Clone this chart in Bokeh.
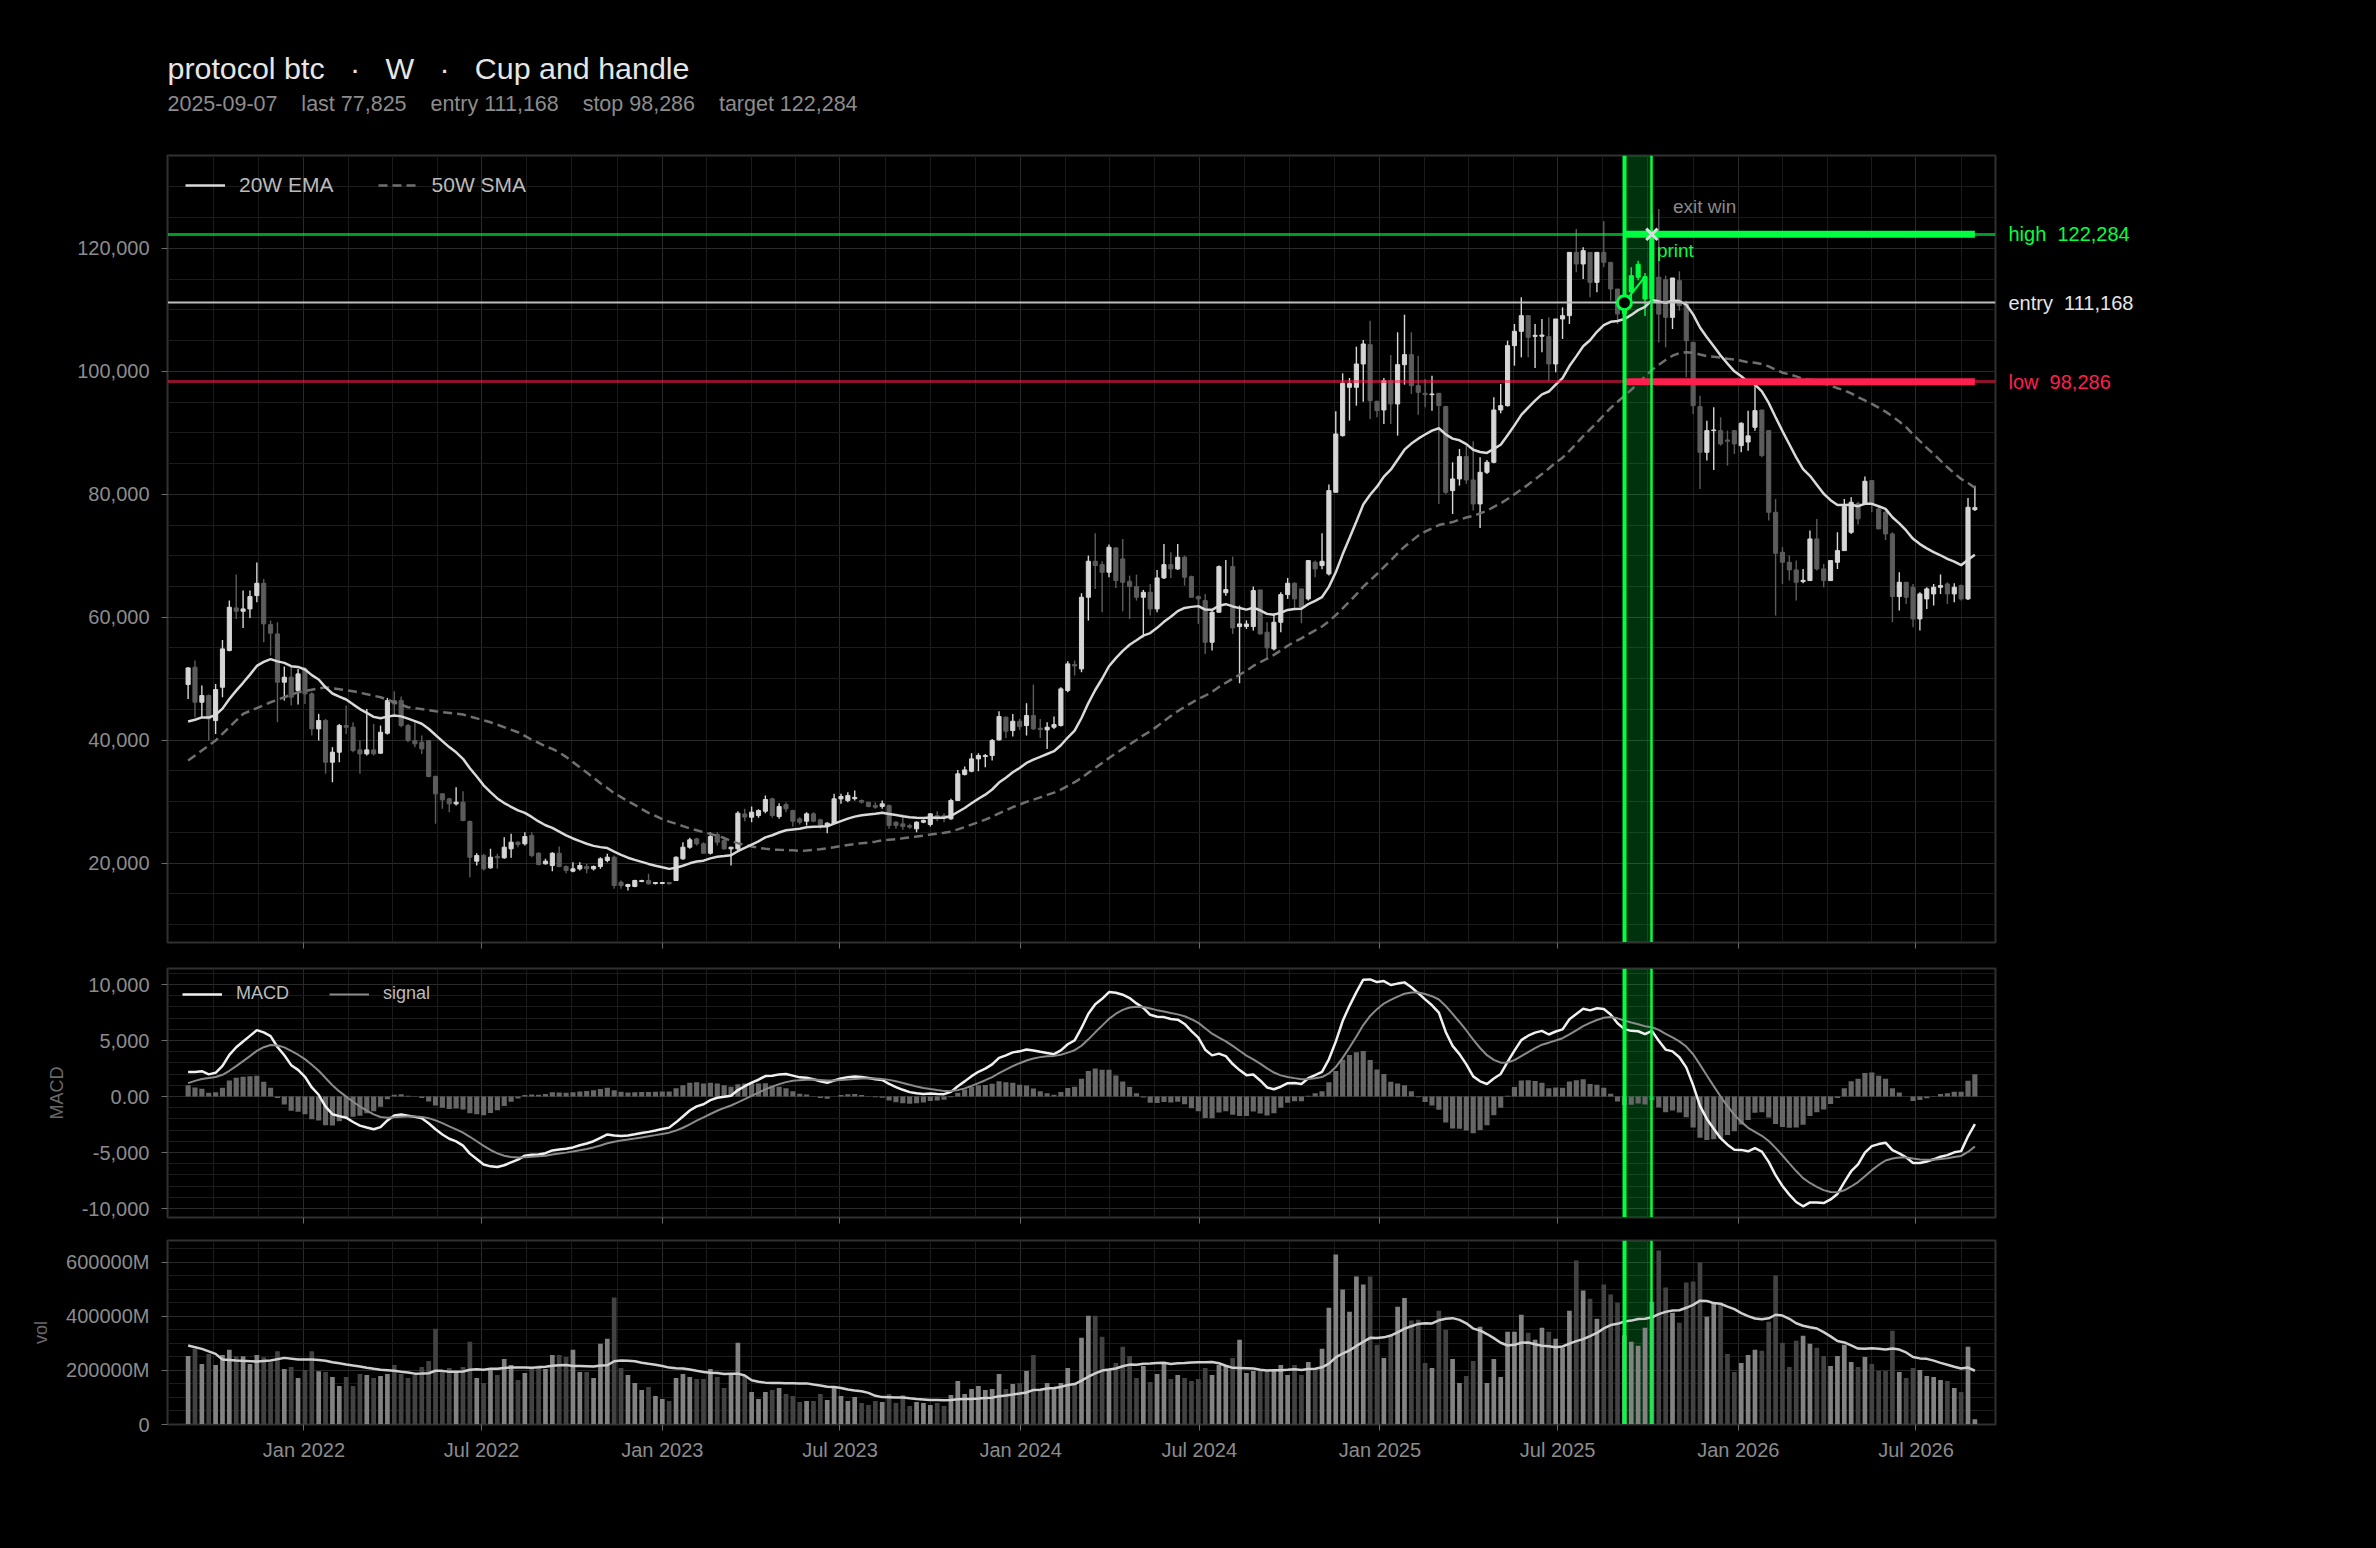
import numpy as np
import pandas as pd
from bokeh.plotting import figure
from bokeh.layouts import column, row
from bokeh.models import (Range1d, FixedTicker, SingleIntervalTicker, NumeralTickFormatter,
                          CustomJSTickFormatter, DatetimeTickFormatter, Label, Legend,
                          LegendItem, ColumnDataSource)
from bokeh.core.properties import value
from bokeh.embed import file_html
from bokeh.resources import INLINE

# ---------------- data ----------------
symbol = "protocol btc"
timeframe = "W"
pattern = "Cup and handle"
signal_date = "2025-09-07"
exit_date = "2025-10-05"
entry_price = 111168
stop_price = 98286
target_price = 122284
first_week = "2021-09-05"

opens = [49051, 51870, 46179, 47263, 43198, 48618, 54580, 61517, 60975, 61355,
         63523, 65528, 58807, 57290, 49431, 50244, 48076, 51599, 47534, 41843,
         43198, 36423, 38049, 42385, 42114, 38428, 37778, 38428, 37886, 41138,
         46450, 46450, 42385, 39946, 39675, 39946, 34092, 31274, 30461, 29648,
         29919, 26775, 20325, 21247, 19241, 21084, 20867, 22331, 23415, 23144,
         24499, 21626, 19892, 19621, 21626, 19458, 18699, 19079, 19458, 19079,
         19458, 20434, 20976, 16911, 16206, 16206, 17020, 17182, 16694, 16700,
         16857, 17182, 20705, 22602, 23957, 23144, 21626, 24661, 23686, 22331,
         22331, 28000, 27480, 27751, 28455, 30461, 27588, 29539, 28564, 27209,
         26829, 28022, 27046, 26124, 26504, 30461, 30190, 30500, 30190, 29919,
         29377, 29214, 29377, 26666, 26395, 26124, 25583, 26666, 26287, 27751,
         27751, 27209, 30190, 34417, 34959, 36965, 37344, 37507, 40054, 43740,
         41572, 43089, 42385, 44011, 41951, 41680, 42114, 42385, 48076, 52304,
         51599, 63252, 69105, 68563, 67316, 71273, 69485, 65853, 64986, 63252,
         64065, 61355, 66395, 68563, 67858, 69756, 66612, 63360, 62710, 55935,
         60813, 64000, 68238, 58482, 58500, 58482, 64444, 57561, 54851, 59187,
         63686, 65528, 64607, 62981, 68942, 68400, 67046, 80326, 89540, 97400,
         97398, 101192, 104335, 95121, 93712, 98482, 94688, 101083, 102709, 97669,
         96422, 96205, 96422, 94255, 80597, 82494, 86125, 82331, 78428, 83577,
         85204, 93712, 94418, 104173, 106503, 109051, 105690, 105700, 105636, 101192,
         108509, 109051, 119349, 117452, 119349, 114471, 119349, 117723, 113387, 109400,
         112900, 115300, 111761, 111800, 115300, 114905, 108780, 114742, 110948, 104715,
         94255, 86830, 90350, 90352, 88834, 90352, 87913, 88500, 90894, 93712,
         90352, 77073, 70569, 68943, 67696, 65800, 65962, 72737, 67858, 65962,
         68942, 70840, 73820, 78500, 78428, 82222, 77615, 77073, 73549, 63360,
         65691, 64878, 59729, 62981, 63794, 64878, 65420, 63794, 65149, 62981,
         77500]
highs = [51870, 52954, 48889, 47425, 49160, 56314, 62710, 66937, 64336, 64336,
         68888, 66233, 59458, 59187, 51978, 52141, 51599, 51870, 47805, 44282,
         43469, 38862, 42656, 45637, 42927, 39946, 45095, 42656, 42385, 46883,
         47967, 47100, 42656, 42927, 40759, 40054, 34255, 31382, 30623, 32358,
         31707, 26938, 21626, 21518, 22331, 21518, 24228, 24770, 23577, 25041,
         25041, 21789, 20705, 21789, 22710, 19621, 20163, 20163, 19892, 19621,
         20976, 21518, 21247, 17182, 16640, 17290, 17290, 18266, 16911, 16960,
         16911, 21084, 23415, 24119, 24119, 23415, 25041, 25041, 23957, 22602,
         28455, 28835, 29214, 28780, 31003, 30623, 29756, 29919, 28672, 27480,
         28293, 28293, 27209, 26666, 31274, 31274, 31545, 31816, 30350, 29919,
         29919, 30190, 29539, 26829, 27913, 26395, 26829, 27100, 28130, 28455,
         28130, 30461, 35176, 35718, 37886, 37886, 37778, 40217, 44715, 43848,
         44282, 43469, 46016, 49051, 43469, 42927, 43848, 48618, 52846, 52954,
         63902, 70027, 73658, 69105, 71815, 71381, 72737, 66775, 66937, 64444,
         65420, 67696, 71923, 70569, 71923, 70027, 66775, 63523, 63794, 60975,
         68400, 69300, 69864, 61897, 59500, 64986, 64444, 59187, 60650, 64065,
         66395, 65690, 64607, 69322, 69214, 73658, 81573, 93497, 99675, 98915,
         104010, 105094, 108237, 95229, 98915, 102655, 106340, 109211, 106340, 102546,
         98753, 99295, 96422, 94418, 85204, 87372, 87913, 88617, 86016, 85583,
         95771, 97940, 104986, 107695, 112032, 109051, 107695, 108500, 108780, 108509,
         110406, 119349, 123143, 120162, 119349, 119349, 124389, 117723, 113387, 112600,
         116910, 118000, 116000, 125600, 126400, 115555, 115176, 116259, 111490, 104715,
         96043, 91978, 94147, 92519, 90352, 90352, 91707, 93603, 97669, 93712,
         90352, 79241, 71381, 70027, 69214, 67858, 74092, 75989, 68671, 69322,
         73820, 79241, 79512, 78800, 82873, 82331, 77886, 77615, 73820, 67316,
         65691, 65420, 64065, 64878, 65420, 66937, 65691, 65528, 65311, 79404,
         81400]
lows = [46721, 43740, 43740, 39946, 41030, 46992, 54471, 59729, 58265, 59892,
        62439, 55935, 53767, 42927, 46450, 45637, 45800, 45908, 40759, 39946,
        34526, 33171, 36423, 41030, 38049, 34526, 37507, 37507, 37778, 40922,
        44011, 42114, 39675, 38862, 37778, 33984, 26396, 28835, 28293, 29377,
        26829, 17724, 19621, 18808, 19079, 19079, 20705, 20867, 22602, 22873,
        20976, 19621, 19783, 18699, 19350, 18374, 18537, 18808, 18374, 18808,
        19079, 20163, 15827, 15827, 15556, 16098, 16910, 16531, 16531, 16580,
        16531, 17100, 20542, 22331, 22873, 21518, 21409, 22873, 22168, 19621,
        21951, 26829, 26666, 27371, 28130, 27371, 27209, 28293, 25962, 26287,
        26124, 26666, 25583, 24878, 26395, 29648, 29919, 30190, 29700, 29106,
        28835, 28835, 25583, 25583, 25420, 25583, 25041, 26500, 25962, 26829,
        26666, 27046, 30190, 34255, 34797, 34959, 35610, 36694, 39946, 40379,
        40596, 41680, 40759, 41680, 40379, 38591, 41843, 42222, 47805, 50515,
        51057, 59458, 64607, 60813, 66504, 64770, 60975, 59729, 62710, 56748,
        60271, 60813, 66233, 66395, 67696, 65149, 63252, 58916, 54038, 54580,
        60813, 63500, 57290, 49268, 58100, 57832, 57182, 53226, 54580, 57561,
        62981, 61355, 59024, 62710, 66504, 67800, 66775, 80326, 89377, 91979,
        94418, 95043, 92236, 92519, 91436, 91436, 89539, 97832, 96313, 92953,
        94147, 93603, 78428, 80055, 76801, 81411, 81681, 77344, 74525, 83306,
        85041, 93170, 94255, 100921, 102275, 102275, 100542, 103100, 98482, 99837,
        105257, 107695, 116097, 115013, 112032, 112845, 116910, 111490, 107695, 107600,
        111500, 114800, 109000, 111500, 104700, 103901, 106883, 109865, 99024, 93061,
        80868, 85475, 83958, 87913, 84662, 86558, 86829, 87100, 90352, 86016,
        75718, 60271, 65420, 65962, 62710, 65528, 65962, 67588, 64878, 65962,
        67858, 70840, 73549, 75100, 78428, 77073, 74363, 72574, 59187, 61084,
        62168, 58374, 57832, 61355, 61897, 63794, 62168, 62439, 62710, 62818,
        77300]
closes = [51761, 46179, 47263, 43469, 48238, 54851, 61626, 60975, 61355, 63360,
          65528, 58916, 57398, 49431, 50244, 46992, 50786, 47534, 41843, 43198,
          36423, 38049, 42385, 42114, 38320, 37778, 38428, 37778, 41301, 46450,
          45908, 42385, 39946, 39404, 38591, 34092, 31274, 30298, 29648, 29919,
          26938, 20976, 21247, 19079, 20976, 20867, 22602, 23415, 23035, 24336,
          21247, 19783, 20325, 21626, 19458, 18808, 19079, 19621, 19079, 19458,
          20705, 20976, 16369, 16369, 16531, 17182, 17180, 16640, 16857, 16860,
          16640, 20976, 22602, 23794, 23144, 21626, 24336, 23415, 22331, 22602,
          28130, 27500, 28293, 28564, 30352, 27751, 29214, 28835, 26829, 26666,
          28022, 26829, 26124, 26504, 30461, 30840, 31003, 30700, 29919, 29214,
          29106, 29648, 26124, 26124, 25962, 25854, 26666, 26938, 28022, 27209,
          27480, 30190, 34526, 35176, 36965, 37507, 37507, 39946, 43848, 41463,
          43089, 42222, 44011, 41843, 41734, 42114, 42547, 48347, 52412, 52087,
          63252, 69105, 68400, 67316, 71381, 65962, 65690, 64986, 63252, 64065,
          61355, 66395, 68563, 67858, 69756, 66504, 63252, 62981, 55935, 60813,
          68238, 64500, 58265, 58916, 58900, 64336, 57290, 55014, 59187, 63686,
          65528, 62981, 61626, 69214, 67858, 69100, 80597, 89811, 98049, 98000,
          101192, 104444, 95219, 93603, 98482, 94688, 101083, 102709, 97669, 96585,
          96205, 96313, 94418, 80326, 82494, 86125, 82331, 78428, 83577, 85204,
          93712, 94418, 104173, 106503, 109051, 105528, 105853, 105900, 101192, 108509,
          109051, 119349, 117452, 119620, 114471, 119349, 117723, 113387, 109322, 111500,
          115555, 117400, 115400, 122300, 109300, 108780, 115176, 110677, 104986, 94418,
          86830, 90352, 90460, 88184, 88617, 88184, 91545, 89500, 93603, 86287,
          77072, 70406, 68943, 67696, 65691, 66000, 72737, 67858, 65962, 69214,
          70840, 77994, 78699, 76000, 82114, 78428, 74363, 73549, 63360, 65691,
          63252, 59729, 63794, 64607, 64878, 65149, 63794, 64878, 62981, 77886,
          77825]
volumes_m = [253600, 279600, 223900, 261000, 220200, 257300, 275900, 252400, 252400, 223900,
             257300, 248600, 230100, 270900, 205300, 212800, 171900, 201600, 270900, 196700,
             194200, 175700, 142300, 175700, 142300, 186800, 183100, 171900, 179400, 186800,
             220200, 186800, 171900, 183100, 212800, 235000, 353800, 194200, 209100, 194200,
             212800, 305500, 171900, 153400, 205300, 183100, 242500, 220200, 164500, 190500,
             209100, 217700, 205300, 257300, 257300, 249900, 275900, 194200, 194200, 171900,
             298100, 316700, 468900, 209100, 183100, 153400, 127400, 138500, 105100, 94000,
             86600, 171900, 186800, 175700, 168200, 168200, 205300, 175700, 134800, 186800,
             301800, 180600, 120000, 94000, 120000, 127400, 134800, 112600, 105100, 82900,
             86600, 86600, 112600, 90300, 138500, 105100, 86600, 101400, 79200, 71800,
             86600, 82900, 112600, 79200, 108900, 68000, 82900, 79200, 71800, 79200,
             68000, 108900, 160800, 112600, 131100, 142300, 127400, 131100, 186800, 131100,
             149700, 153400, 197900, 257300, 131100, 153400, 131100, 153400, 209100, 149700,
             320400, 402000, 402000, 324100, 205300, 227600, 287000, 253600, 171900, 216500,
             157100, 186800, 227600, 168200, 183100, 171900, 160800, 168200, 209100, 183100,
             220200, 220200, 246200, 313000, 190500, 197900, 197900, 197900, 197900, 220200,
             183100, 220200, 183100, 231300, 205300, 279600, 431700, 628400, 498500, 416900,
             546800, 517100, 546800, 294400, 246200, 329000, 435400, 467600, 384700, 387200,
             227600, 209100, 420600, 350100, 242500, 153400, 179400, 235000, 361200, 153400,
             242500, 175700, 342700, 342700, 405800, 339000, 313000, 357500, 342700, 316700,
             283300, 420600, 606200, 494800, 465100, 390900, 517100, 480000, 450300, 330000,
             305600, 290700, 357500, 454000, 643300, 506000, 413200, 376100, 524500, 528200,
             598700, 398300, 450300, 442900, 261000, 194200, 227600, 257300, 275900, 272200,
             379800, 550500, 301800, 212800, 309300, 327800, 298100, 283300, 253600, 216500,
             253600, 294400, 231300, 212800, 249900, 223900, 197900, 197900, 346400, 194200,
             171900, 209100, 201600, 179400, 175700, 164500, 160800, 134800, 120000, 287000,
             19800]

# indicator warm-up values (history before the first visible week)
ema20_start = 43035
ema12_start = 44140
ema26_start = 41940
signal_start = 1200
sma50_warmup_idx = [0, 4, 8, 12, 16, 20, 24, 28, 32, 36, 40, 44, 48]
sma50_warmup = [36694, 39946, 44282, 46179, 47805, 48618, 47967, 46992, 45366, 44715, 44173, 42927, 41301]
volma_warmup_idx = [0, 2, 4, 5, 7, 10, 12, 14, 16, 18]
volma_warmup = [292000, 279600, 261000, 240000, 236300, 232600, 236300, 246200, 240000, 240000]

price_axis = (7100, 135100)
macd_axis = (-10800, 11430)
vol_axis = (0, 680000)

# ---------------- derived ----------------
FONT = "Liberation Sans"
n = len(closes)
o = np.array(opens, float); h = np.array(highs, float)
l = np.array(lows, float); c = np.array(closes, float)
v = np.array(volumes_m, float)
dates = pd.date_range(first_week, periods=n, freq="7D")
t = (dates.values.astype("datetime64[ms]").astype("int64")).astype(float)
WEEK = 7 * 24 * 3600 * 1000.0


def ms(s):
    return float(pd.Timestamp(s).value // 10**6)


t_entry = ms(signal_date)
t_exit = ms(exit_date)


def ema_series(x, start, span):
    a = 2.0 / (span + 1)
    out = np.empty(len(x)); out[0] = start
    for i in range(1, len(x)):
        out[i] = out[i - 1] + a * (x[i] - out[i - 1])
    return out


ema20 = ema_series(c, ema20_start, 20)
ema12 = ema_series(c, ema12_start, 12)
ema26 = ema_series(c, ema26_start, 26)
macd = ema12 - ema26
sig = ema_series(macd, signal_start, 9)
hist = macd - sig

sma50_x = [t[i] for i in sma50_warmup_idx] + list(t[49:])
sma50_y = list(sma50_warmup) + [c[i - 49:i + 1].mean() for i in range(49, n)]
volma_x = [t[i] for i in volma_warmup_idx] + list(t[19:])
volma_y = list(volma_warmup) + [v[i - 19:i + 1].mean() for i in range(19, n)]

UP, DOWN, TRADE = "#d6d6d6", "#5c5c5c", "#00ff41"
RED = "#ff1f4f"
in_trade = (t >= t_entry) & (t <= t_exit)
cc = [TRADE if tr else (UP if cl >= op else DOWN) for tr, op, cl in zip(in_trade, o, c)]
vc = ["#828282" if cl >= op else "#424242" for op, cl in zip(o, c)]

src = ColumnDataSource(dict(t=t, o=o, h=h, l=l, c=c, top=np.maximum(o, c), bot=np.minimum(o, c),
                            color=cc, v=v, vcolor=vc, macd=macd, sig=sig, hist=hist, ema=ema20))

xr = Range1d(t[0] - 3 * WEEK, t[-1] + 3 * WEEK)
yr_price = Range1d(*price_axis)

# x ticks: Jan / Jul, with three minor divisions between
majors = []
for y in range(2021, 2028):
    for m in (1, 7):
        majors.append(ms(f"{y}-{m:02d}-01"))
minors = []
for a, b in zip(majors[:-1], majors[1:]):
    for k in (1, 2, 3):
        minors.append(a + (b - a) * k / 4)
xticker = FixedTicker(ticks=majors, minor_ticks=minors)

PAGE_W = 2368
FL, FR = 167, 1995          # frame left / right on the page
TITLE_H = 125


def base_fig(width, height, top, bottom, right, yr):
    p = figure(width=width, height=height, x_axis_type="datetime", x_range=xr,
               y_range=yr, output_backend="svg", toolbar_location=None, tools="",
               min_border_left=FL, min_border_right=right, min_border_top=top,
               min_border_bottom=bottom, background_fill_color="#000000",
               border_fill_color="#000000", outline_line_color="#303030",
               outline_line_width=2)
    p.xaxis.ticker = xticker
    for ax in p.axis:
        ax.axis_line_color = "#303030"
        ax.major_tick_line_color = "#6a6a6a"
        ax.major_tick_out = 6
        ax.major_tick_in = 0
        ax.minor_tick_out = 0
        ax.minor_tick_in = 0
        ax.major_label_text_color = "#8c8c8c"
        ax.major_label_text_font = FONT
        ax.major_label_text_font_size = "20px"
    p.yaxis.major_label_standoff = 12
    for g in (p.xgrid, p.ygrid):
        g.grid_line_color = "#2a2a2a"
        g.minor_grid_line_color = "#1b1b1b"
    p.vstrip(x0=[t_entry], x1=[t_exit], fill_color=TRADE, fill_alpha=0.2, line_color=None)
    return p


def band_edges(p):
    p.vspan(x=[t_entry], line_color=TRADE, line_width=4)
    p.vspan(x=[t_exit], line_color=TRADE, line_width=2.5)


def hide_x_labels(p):
    p.xaxis.formatter = CustomJSTickFormatter(code="return '';")
    p.xaxis.major_label_text_font_size = "0px"
    p.xaxis.major_label_standoff = 0


def blank_fig(width, height, xr_, yr_, top=0, bottom=0, left=0, right=0):
    p = figure(width=width, height=height, x_range=xr_, y_range=yr_, output_backend="svg",
               toolbar_location=None, tools="", x_axis_location=None, y_axis_location=None,
               title=None, min_border_left=left, min_border_right=right, min_border_top=top,
               min_border_bottom=bottom, background_fill_color="#000000",
               border_fill_color="#000000", outline_line_color=None)
    for g in p.grid:
        g.visible = False
    return p


# ---------------- title block ----------------
NB = "\u00a0"
title_txt = f"{symbol}{NB*3}·{NB*3}{timeframe}{NB*3}·{NB*3}{pattern}"
sub_txt = (f"{signal_date}{NB*4}last {closes[-1]:,}{NB*4}entry {entry_price:,}"
           f"{NB*4}stop {stop_price:,}{NB*4}target {target_price:,}")
# frame of this strip spans the same horizontal extent as the chart frames
pt = blank_fig(PAGE_W, TITLE_H, xr, Range1d(TITLE_H, 0), left=FL, right=PAGE_W - FR)
pt.text(x=[xr.start], y=[67], text=[title_txt], text_color="#e6e6e6", text_font=value(FONT),
        text_font_size=value("30.4px"), text_baseline="alphabetic", text_align="left")
pt.text(x=[xr.start], y=[103], text=[sub_txt], text_color="#8c8c8c", text_font=value(FONT),
        text_font_size=value("21.5px"), text_baseline="alphabetic", text_align="left")

# ---------------- price panel ----------------
P1_TOP, P1_BOT = 155 - TITLE_H, 13
P1_H = P1_TOP + 787 + P1_BOT
p1 = base_fig(FR + 2, P1_H, P1_TOP, P1_BOT, 2, yr_price)
hide_x_labels(p1)
p1.yaxis.ticker = SingleIntervalTicker(interval=20000, num_minor_ticks=4)
p1.yaxis.formatter = NumeralTickFormatter(format="0,0")

p1.segment(x0="t", y0="l", x1="t", y1="h", line_color="color", line_width=1.4, source=src)
p1.vbar(x="t", width=0.6 * WEEK, top="top", bottom="bot", fill_color="color",
        line_color="color", line_width=1, source=src)
sma_r = p1.line(sma50_x, sma50_y, line_color="#707070", line_width=2.5, line_dash="9 5")
ema_r = p1.line("t", "ema", line_color="#d9d9d9", line_width=2.5, source=src)

p1.hspan(y=[target_price], line_color=TRADE, line_alpha=0.6, line_width=3)
p1.hspan(y=[stop_price], line_color=RED, line_alpha=0.55, line_width=3)
p1.hspan(y=[entry_price], line_color="#bdbdbd", line_width=2)
p1.segment(x0=[t_entry], y0=[target_price], x1=[t[-1]], y1=[target_price],
           line_color=TRADE, line_width=7)
p1.segment(x0=[t_entry], y0=[stop_price], x1=[t[-1]], y1=[stop_price],
           line_color=RED, line_width=7)
band_edges(p1)
i_pre = int(np.where(in_trade)[0][-2])
p1.segment(x0=[t_entry], y0=[entry_price], x1=[t[i_pre]], y1=[c[i_pre]],
           line_color=TRADE, line_width=2)
p1.scatter([t_entry], [entry_price], marker="circle", size=14, line_color=TRADE,
           line_width=3, fill_color="#000000")
p1.scatter([t_exit], [target_price], marker="x", size=16, line_color="#dcdcdc", line_width=3)

p1.add_layout(Label(x=t_exit, y=target_price, x_offset=21, y_offset=28, text="exit win",
                    text_color="#8a8a8a", text_font=FONT, text_font_size="19px",
                    text_baseline="alphabetic"))
p1.add_layout(Label(x=t_exit, y=target_price, x_offset=5, y_offset=-16, text="print",
                    text_color=TRADE, text_font=FONT, text_font_size="19px",
                    text_baseline="alphabetic"))

leg1 = Legend(items=[LegendItem(label="20W EMA", renderers=[ema_r]),
                     LegendItem(label="50W SMA", renderers=[sma_r])],
              location="top_left", orientation="horizontal", background_fill_alpha=0,
              border_line_color=None, label_text_color="#bbbbbb", label_text_font=FONT,
              label_text_font_size="21px", glyph_width=40, glyph_height=20,
              label_standoff=14, spacing=44, margin=18, padding=0)
p1.add_layout(leg1)

# right-hand level labels, sharing the price scale
p1r = blank_fig(PAGE_W - (FR + 2), P1_H, Range1d(0, PAGE_W - (FR + 2)), yr_price,
                top=P1_TOP, bottom=P1_BOT)
lvl_words = ["high", "entry", "low"]
lvl_prices = [target_price, entry_price, stop_price]
lvl_colors = [TRADE, "#e6e6e6", RED]
p1r.text(x=[11] * 3, y=lvl_prices,
         text=[f"{w}{NB*2}{pr:,}" for w, pr in zip(lvl_words, lvl_prices)],
         text_color=lvl_colors, text_font=value(FONT), text_font_size=value("20px"),
         text_baseline="middle", text_align="left")

# ---------------- MACD panel ----------------
p2 = base_fig(PAGE_W, 274, 13, 12, PAGE_W - FR, Range1d(*macd_axis))
hide_x_labels(p2)
p2.yaxis.ticker = SingleIntervalTicker(interval=5000, num_minor_ticks=5)
p2.yaxis.formatter = CustomJSTickFormatter(code="""
if (Math.abs(tick) < 1e-9) { return "0.00"; }
const s = Math.round(Math.abs(tick)).toString().replace(/\\B(?=(\\d{3})+(?!\\d))/g, ",");
return (tick < 0 ? "-" : "") + s;
""")
p2.yaxis.axis_label = "MACD"
p2.vbar(x="t", width=0.75 * WEEK, top="hist", bottom=0, fill_color="#666666",
        line_color=None, source=src)
m_r = p2.line("t", "macd", line_color="#f0f0f0", line_width=2.5, source=src)
s_r = p2.line("t", "sig", line_color="#8a8a8a", line_width=2, source=src)
band_edges(p2)
leg2 = Legend(items=[LegendItem(label="MACD", renderers=[m_r]),
                     LegendItem(label="signal", renderers=[s_r])],
              location="top_left", orientation="horizontal", background_fill_alpha=0,
              border_line_color=None, label_text_color="#bbbbbb", label_text_font=FONT,
              label_text_font_size="18px", glyph_width=40, glyph_height=20,
              label_standoff=14, spacing=40, margin=15, padding=0)
p2.add_layout(leg2)

# ---------------- volume panel ----------------
p3 = base_fig(PAGE_W, 245, 11, 50, PAGE_W - FR, Range1d(*vol_axis))
p3.xaxis.formatter = DatetimeTickFormatter(months="%b %Y", years="%b %Y", days="%b %Y")
p3.xaxis.major_label_standoff = 8
p3.yaxis.ticker = SingleIntervalTicker(interval=200000, num_minor_ticks=4)
p3.yaxis.formatter = CustomJSTickFormatter(
    code='return tick == 0 ? "0" : Math.round(tick).toString() + "M";')
p3.yaxis.axis_label = "vol"
p3.vbar(x="t", width=0.68 * WEEK, top="v", bottom=0, fill_color="vcolor",
        line_color=None, source=src)
p3.line(volma_x, volma_y, line_color="#cfcfcf", line_width=2.5)
band_edges(p3)

for p in (p2, p3):
    p.yaxis.axis_label_text_color = "#6a6a6a"
    p.yaxis.axis_label_text_font = FONT
    p.yaxis.axis_label_text_font_size = "18px"
    p.yaxis.axis_label_text_font_style = "normal"
    p.yaxis.axis_label_standoff = 12

layout = column(pt, row(p1, p1r), p2, p3, styles={"background-color": "#000000"})
tmpl = """{% block postamble %}
<style>html, body { background-color: #000000 !important; }</style>
{% endblock %}"""
open("out.html", "w").write(file_html(layout, INLINE, title="protocol btc", template=tmpl))
